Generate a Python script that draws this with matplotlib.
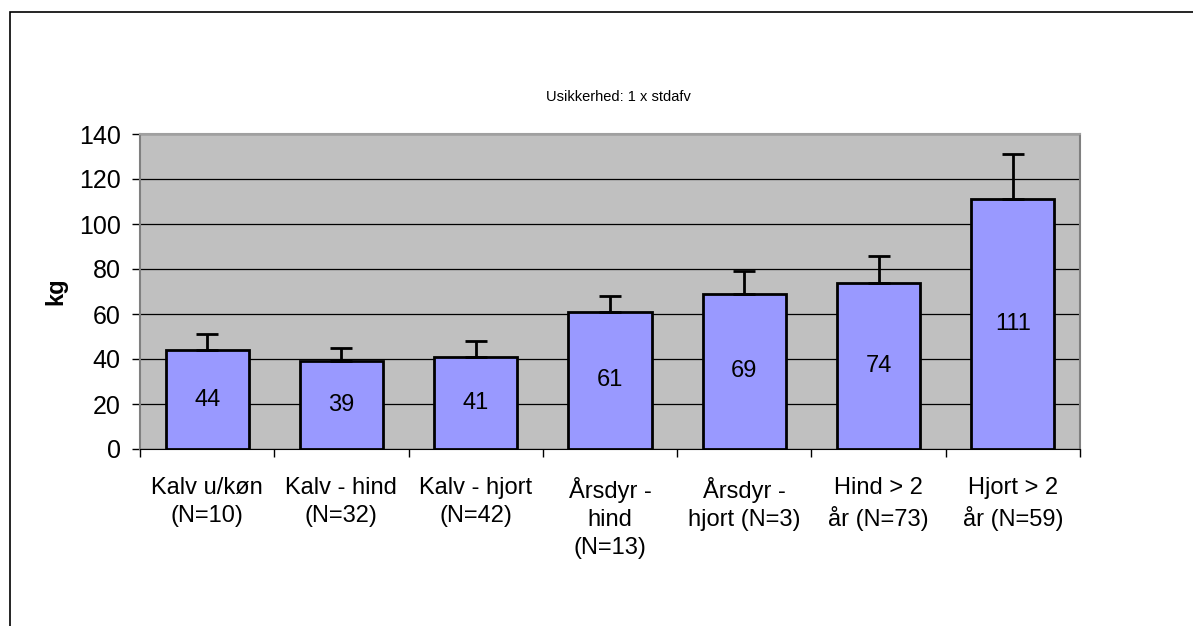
import matplotlib.pyplot as plt
from matplotlib.patches import Rectangle

plt.rcParams['font.family'] = ['Liberation Sans', 'DejaVu Sans']

categories = ['Kalv u/køn\n(N=10)', 'Kalv - hind\n(N=32)', 'Kalv - hjort\n(N=42)',
              'Årsdyr -\nhind\n(N=13)', 'Årsdyr -\nhjort (N=3)', 'Hind > 2\når (N=73)',
              'Hjort > 2\når (N=59)']
values = [44, 39, 41, 61, 69, 74, 111]
errors = [7, 6, 7, 7, 10, 12, 20]
yticks = [0, 20, 40, 60, 80, 100, 120, 140]

fig = plt.figure(figsize=(11.93, 6.26), dpi=100)
# outer chart border (Excel-style frame)
fig.patches.append(Rectangle((10 / 1193, -0.05), 1.2, 1 - 12 / 626 + 0.05,
                             transform=fig.transFigure, fill=False,
                             edgecolor='black', linewidth=1.2))

ax = fig.add_axes([140 / 1193, 1 - 449 / 626, 940 / 1193, 315 / 626])
ax.set_facecolor('#C0C0C0')

x = range(len(values))
ax.bar(x, values, width=0.62, color='#9999FF', edgecolor='black', linewidth=2, zorder=3)
ax.errorbar(x, values, yerr=[[0] * len(errors), errors], fmt='none', ecolor='black',
            elinewidth=2, capsize=8, capthick=2, zorder=4)

for i, v in enumerate(values):
    ax.text(i, v / 2, str(v), ha='center', va='center', fontsize=17, zorder=5)

ax.set_xlim(-0.5, len(values) - 0.5)
ax.set_ylim(0, 140)
ax.set_yticks(yticks)
ax.yaxis.grid(True, color='black', linewidth=0.9, zorder=1)
ax.set_axisbelow(True)

ax.set_xticks([i + 0.5 for i in range(-1, len(values))], minor=False)
ax.set_xticklabels([])
ax.tick_params(axis='x', length=6, width=1, direction='out', color='black')
ax.set_xticks(list(x), minor=True)
ax.set_xticklabels(categories, minor=True, fontsize=17, linespacing=1.35)
ax.tick_params(axis='x', which='minor', length=0, pad=20)
ax.tick_params(axis='y', labelsize=18, length=6, width=1, color='black', pad=8)

ax.spines['left'].set_color('#808080')
ax.spines['left'].set_linewidth(1.5)
ax.spines['bottom'].set_color('black')
ax.spines['top'].set_color('#A0A0A0')
ax.spines['right'].set_color('#808080')
ax.spines['top'].set_linewidth(1.5)
ax.spines['right'].set_linewidth(1.5)

ax.set_ylabel('kg', fontsize=17, fontweight='bold', labelpad=8)
fig.text(618 / 1193, 1 - 97 / 626, 'Usikkerhed: 1 x stdafv', ha='center', va='center', fontsize=10.5)

plt.savefig('out.png', dpi=100)
